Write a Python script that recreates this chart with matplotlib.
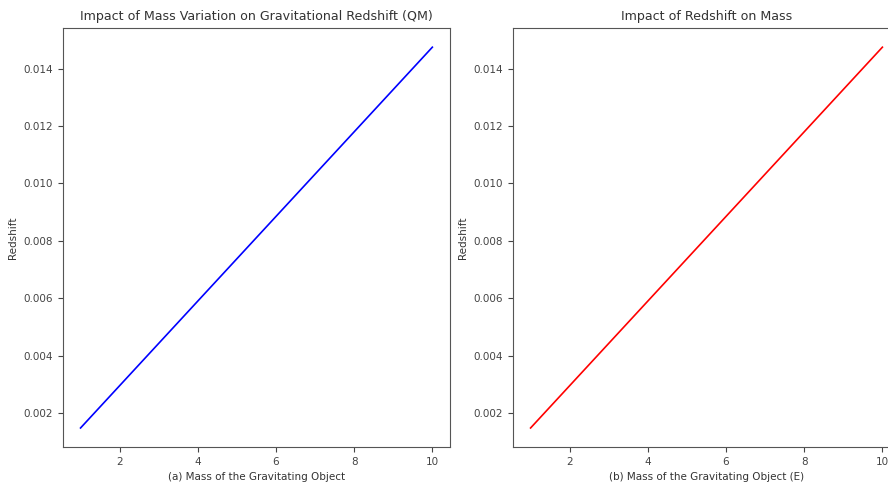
import matplotlib.pyplot as plt

mass = [1, 2, 3, 4, 5, 6, 7, 8, 9, 10]
redshift_qm = [0.001475, 0.00295, 0.004425, 0.0059, 0.007375,
               0.00885, 0.010325, 0.0118, 0.013275, 0.01475]
redshift_e = [0.001475, 0.00295, 0.004425, 0.0059, 0.007375,
              0.00885, 0.010325, 0.0118, 0.013275, 0.01475]

plt.rcParams['text.color'] = '#333333'
plt.rcParams['axes.labelcolor'] = '#333333'
plt.rcParams['xtick.color'] = '#444444'
plt.rcParams['ytick.color'] = '#444444'

fig = plt.figure(figsize=(8.88, 4.82), dpi=100)
ax1 = fig.add_axes([0.0709, 0.0726, 0.4358, 0.869])
ax2 = fig.add_axes([0.5777, 0.0726, 0.4358, 0.869])

ax1.plot(mass, redshift_qm, color='blue', linewidth=1.2)
ax1.set_title('Impact of Mass Variation on Gravitational Redshift (QM)', fontsize=9.1)
ax1.set_xlabel('(a) Mass of the Gravitating Object', fontsize=7.5)
ax1.set_ylabel('Redshift', fontsize=7.5)

ax2.plot(mass, redshift_e, color='red', linewidth=1.2)
ax2.set_title('Impact of Redshift on Mass', fontsize=9.1)
ax2.set_xlabel('(b) Mass of the Gravitating Object (E)', fontsize=7.5)
ax2.set_ylabel('Redshift', fontsize=7.5)

for ax in (ax1, ax2):
    ax.tick_params(labelsize=7.5)
    for s in ax.spines.values():
        s.set_color('#555555')

fig.savefig('out.png', dpi=100)
